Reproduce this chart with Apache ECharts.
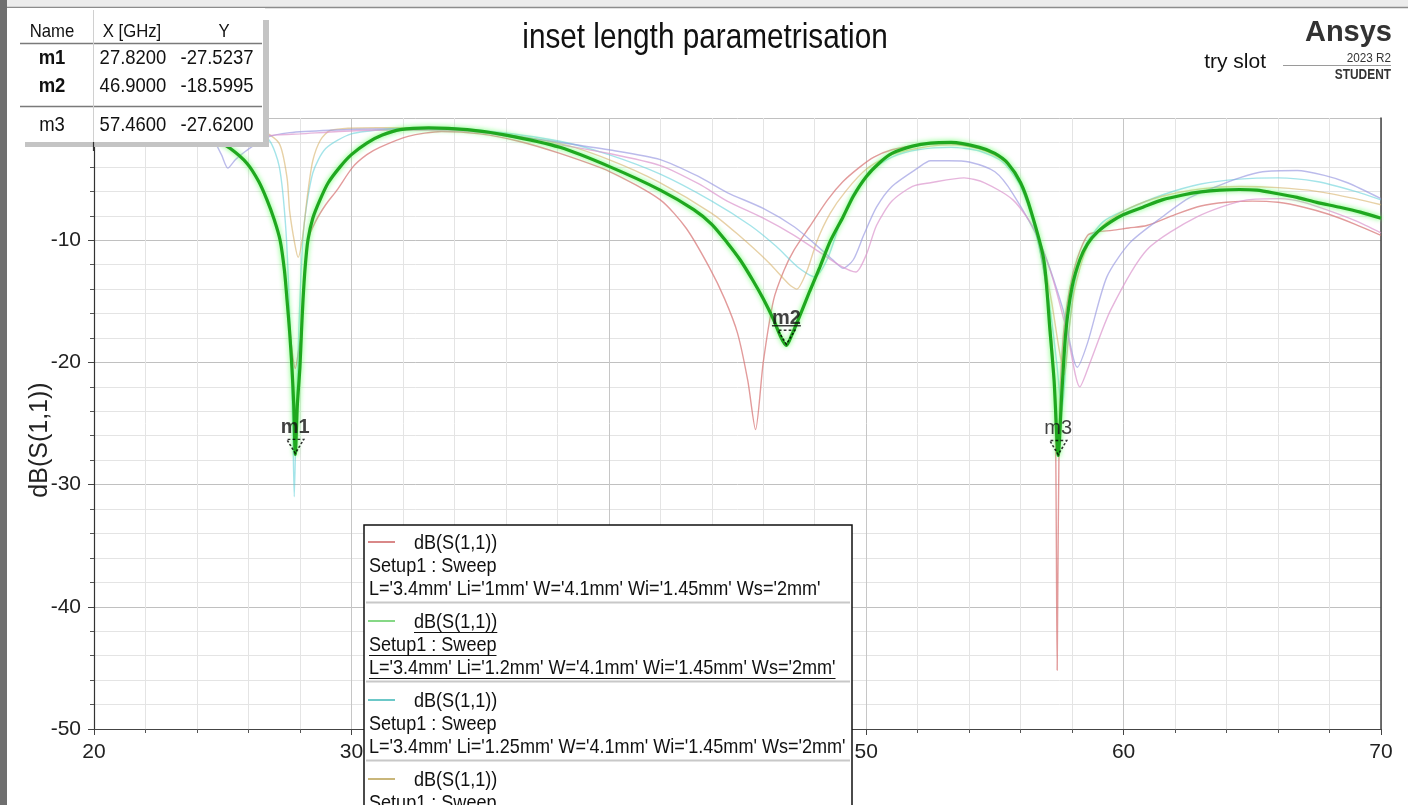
<!DOCTYPE html>
<html>
<head>
<meta charset="utf-8">
<script src="https://cdn.jsdelivr.net/npm/echarts/dist/echarts.min.js"></script>
<style>
  html, body { margin: 0; padding: 0; background: #ffffff; }
  #chart { width: 1408px; height: 805px; }
</style>
</head>
<body>
<div id="chart"></div>
<script>
// ---- data -------------------------------------------------------------
const chartTitle = 'inset length parametrisation';
const yAxisName = 'dB(S(1,1))';
const traceName = 'dB(S(1,1))';
const setupName = 'Setup1 : Sweep';
const reportName = 'try slot';

// swept variable per trace
const sweepLabels = [
  "L='3.4mm' Li='1mm' W='4.1mm' Wi='1.45mm' Ws='2mm'",
  "L='3.4mm' Li='1.2mm' W='4.1mm' Wi='1.45mm' Ws='2mm'",
  "L='3.4mm' Li='1.25mm' W='4.1mm' Wi='1.45mm' Ws='2mm'",
  "L='3.4mm' Li='1.3mm' W='4.1mm' Wi='1.45mm' Ws='2mm'",
  "L='3.4mm' Li='1.4mm' W='4.1mm' Wi='1.45mm' Ws='2mm'",
  "L='3.4mm' Li='1.5mm' W='4.1mm' Wi='1.45mm' Ws='2mm'"
];

// [frequency GHz, dB(S11)]
const sLi100 = [[24.0,-1.3],[24.6,-1.7],[25.3,-2.6],[25.94,-3.8],[26.4,-5.2],[26.72,-6.7],[27.0,-8.3],[27.23,-10.0],[27.4,-12.5],[27.5,-14.9],[27.6,-17.0],[27.69,-19.0],[27.82,-20.5],[27.95,-19.0],[28.06,-17.5],[28.12,-14.9],[28.2,-12.3],[28.31,-10.0],[28.6,-8.5],[29.0,-7.1],[29.44,-5.9],[30.06,-4.0],[30.6,-3.0],[31.1,-2.4],[32.2,-1.5],[33.5,-1.1],[35.0,-1.3],[36.5,-1.9],[38.1,-2.9],[40.05,-4.4],[42.0,-6.7],[43.0,-9.0],[43.9,-12.2],[44.5,-14.8],[45.0,-17.6],[45.4,-21.5],[45.7,-25.5],[46.0,-20.0],[46.4,-14.9],[46.8,-12.5],[47.2,-10.8],[47.8,-8.9],[48.5,-6.7],[49.1,-5.2],[49.76,-4.0],[50.3,-3.2],[51.0,-2.6],[52.0,-2.2],[53.2,-2.1],[54.4,-2.5],[55.0,-3.0],[55.5,-3.8],[56.0,-5.5],[56.5,-8.5],[56.9,-12.5],[57.2,-18.0],[57.35,-25.0],[57.42,-45.2],[57.5,-25.0],[57.65,-18.0],[57.9,-14.0],[58.2,-11.5],[58.6,-9.6],[59.0,-9.3],[59.55,-9.2],[60.2,-9.0],[60.9,-8.8],[62.0,-7.9],[63.0,-7.2],[64.0,-6.9],[65.0,-6.8],[66.0,-6.9],[67.0,-7.3],[68.0,-7.9],[69.0,-8.7],[70.0,-9.6]];

const sLi120 = [[24.0,-1.2],[24.6,-1.6],[25.3,-2.5],[25.94,-3.7],[26.4,-5.2],[26.72,-6.7],[27.0,-8.3],[27.23,-10.0],[27.4,-12.5],[27.5,-14.9],[27.6,-17.5],[27.69,-20.4],[27.76,-23.5],[27.82,-27.5237],[27.9,-23.5],[28.0,-20.4],[28.06,-17.5],[28.12,-14.9],[28.2,-12.3],[28.31,-10.0],[28.5,-8.2],[28.78,-6.7],[29.1,-5.3],[29.56,-4.0],[30.0,-3.0],[30.6,-2.05],[31.2,-1.4],[31.9,-0.95],[33.0,-0.8],[34.5,-0.95],[36.0,-1.4],[38.1,-2.4],[40.05,-4.0],[42.0,-5.9],[43.3,-7.5],[44.0,-8.7],[44.6,-10.2],[45.1,-11.6],[45.6,-13.3],[46.0,-14.8],[46.4,-16.5],[46.7,-18.0],[46.9,-18.5995],[47.1,-17.8],[47.4,-16.3],[47.8,-14.2],[48.2,-12.2],[48.6,-10.1],[49.1,-8.1],[49.5,-6.4],[50.0,-4.8],[50.5,-3.7],[51.0,-2.9],[51.8,-2.3],[52.5,-2.05],[53.3,-2.0],[54.4,-2.4],[55.0,-2.9],[55.5,-3.7],[56.0,-5.3],[56.4,-7.6],[56.9,-11.6],[57.14,-17.4],[57.3,-21.5],[57.46,-27.62],[57.6,-22.5],[57.76,-17.4],[58.0,-13.8],[58.3,-11.6],[58.6,-10.3],[59.0,-9.3],[59.5,-8.5],[60.0,-7.9],[60.75,-7.3],[61.5,-6.7],[62.3,-6.3],[63.0,-6.05],[63.74,-5.9],[64.5,-5.85],[65.18,-5.9],[66.0,-6.2],[66.74,-6.5],[67.5,-6.9],[68.4,-7.3],[69.2,-7.7],[70.0,-8.2]];

const sLi125 = [[24.0,-0.8],[26.0,-0.9],[26.8,-1.8],[27.2,-4.0],[27.45,-9.0],[27.6,-16.0],[27.72,-25.0],[27.78,-31.0],[27.85,-25.0],[27.98,-16.0],[28.15,-9.0],[28.5,-4.5],[29.0,-2.5],[30.0,-1.3],[31.5,-0.9],[33.0,-0.8],[35.0,-1.0],[38.1,-1.9],[40.0,-3.0],[42.0,-4.6],[44.0,-6.8],[45.5,-8.8],[46.5,-10.5],[47.4,-12.3],[48.0,-13.0],[48.5,-11.5],[49.0,-8.5],[49.5,-6.2],[50.2,-4.3],[51.0,-3.2],[52.0,-2.6],[53.3,-2.4],[54.4,-2.7],[55.3,-3.6],[56.0,-5.6],[56.6,-9.5],[57.1,-15.0],[57.4,-20.0],[57.6,-24.0],[57.8,-19.0],[58.1,-13.5],[58.5,-10.5],[59.2,-8.5],[60.0,-7.6],[61.5,-6.3],[63.0,-5.4],[64.5,-5.0],[66.0,-4.9],[67.5,-5.2],[69.0,-6.0],[70.0,-6.7]];

const sLi130 = [[24.0,-0.9],[25.5,-0.8],[26.5,-1.0],[27.2,-2.1],[27.5,-4.9],[27.6,-7.6],[27.8,-10.3],[27.93,-11.4],[28.1,-9.8],[28.3,-6.2],[28.5,-3.5],[28.8,-1.8],[29.2,-1.0],[31.0,-0.8],[33.0,-0.8],[35.0,-1.1],[38.1,-2.1],[40.0,-3.4],[42.0,-5.3],[44.0,-7.8],[45.0,-9.5],[46.2,-11.8],[47.0,-13.6],[47.3,-14.0],[47.7,-12.5],[48.1,-10.0],[48.6,-7.8],[49.2,-6.0],[50.0,-4.2],[51.0,-3.0],[52.5,-2.3],[53.5,-2.2],[54.5,-2.6],[55.4,-3.6],[56.1,-5.8],[56.7,-9.8],[57.2,-15.0],[57.5,-19.0],[57.7,-21.0],[57.9,-17.0],[58.1,-14.0],[58.6,-10.5],[59.3,-8.6],[60.2,-7.4],[61.5,-6.4],[63.0,-5.8],[64.5,-5.6],[66.0,-5.7],[67.5,-6.0],[69.0,-6.6],[70.0,-7.1]];

const sLi140 = [[24.0,-1.0],[24.6,-1.7],[24.95,-3.0],[25.2,-4.1],[25.5,-3.4],[25.9,-2.7],[26.7,-1.6],[27.6,-1.2],[29.2,-1.0],[31.0,-0.9],[33.0,-0.9],[35.0,-1.1],[38.1,-2.0],[40.0,-2.6],[42.0,-3.4],[43.5,-4.8],[44.6,-6.1],[46.0,-7.4],[47.2,-8.9],[48.0,-10.3],[48.7,-11.6],[49.1,-12.3],[49.5,-11.6],[49.9,-9.6],[50.4,-7.3],[51.0,-5.6],[52.0,-4.1],[52.5,-3.5],[53.2,-3.5],[54.0,-3.6],[55.0,-4.4],[55.7,-6.2],[56.75,-10.2],[57.65,-15.7],[58.2,-20.4],[58.6,-18.4],[59.35,-13.0],[60.25,-10.2],[61.5,-8.1],[62.5,-6.6],[63.5,-5.7],[64.5,-4.9],[65.4,-4.4],[66.74,-4.3],[67.8,-4.7],[68.7,-5.3],[70.0,-6.6]];

const sLi150 = [[24.0,-1.2],[25.0,-1.4],[26.0,-1.5],[27.0,-1.4],[28.0,-1.3],[29.5,-1.1],[31.0,-1.0],[33.0,-1.0],[35.0,-1.2],[38.1,-2.2],[40.0,-2.9],[42.0,-3.9],[43.5,-5.4],[44.6,-6.8],[46.0,-8.2],[47.2,-9.6],[48.2,-11.0],[49.0,-12.1],[49.6,-12.6],[50.0,-11.2],[50.4,-8.8],[51.0,-6.8],[51.8,-5.6],[52.5,-5.3],[53.8,-4.9],[54.6,-5.3],[55.7,-6.7],[56.5,-9.0],[57.2,-12.8],[57.8,-17.5],[58.3,-22.0],[58.7,-20.0],[59.5,-15.7],[60.9,-10.8],[62.85,-8.1],[64.8,-6.7],[66.1,-6.6],[67.0,-6.9],[68.0,-7.6],[69.0,-8.4],[70.0,-9.4]];

const traceData = [sLi100, sLi120, sLi125, sLi130, sLi140, sLi150];

// markers
const markerNames = ['m1', 'm2', 'm3'];
const markerX = [27.82, 46.90, 57.46];
const markerY = [-27.5237, -18.5995, -27.6200];

// axes
const xMin = 20, xMax = 70, xStep = 10;
const yMin = -50, yMax = 0, yStep = 10;

// ---- styling ----------------------------------------------------------
const SANS = "'Liberation Sans',Arial,sans-serif";

const traceStyles = [
  { line: 'rgba(214,112,112,0.70)', key: '#d98888', width: 1.4 },
  { line: '#1fa81f', key: '#86d886', width: 3.2, glow: 'rgba(100,255,100,0.95)' },
  { line: 'rgba(90,205,215,0.55)', key: '#6cc8c8', width: 1.4 },
  { line: 'rgba(212,172,92,0.55)', key: '#c9b67a', width: 1.4 },
  { line: 'rgba(150,150,225,0.65)', key: '#a0a0e0', width: 1.4 },
  { line: 'rgba(220,150,205,0.70)', key: '#dca0cc', width: 1.4 }
];
const selectedTrace = 1;
const selectedMarker = 1;

const chart = echarts.init(document.getElementById('chart'));

const lineSeries = traceData.map((d, i) => ({
  type: 'line',
  name: sweepLabels[i],
  data: d,
  showSymbol: false,
  smooth: 0.25,
  z: i === selectedTrace ? 4 : 2,
  lineStyle: {
    color: traceStyles[i].line,
    width: traceStyles[i].width,
    shadowColor: traceStyles[i].glow || 'transparent',
    shadowBlur: traceStyles[i].glow ? 5 : 0
  },
  emphasis: { disabled: true },
  animation: false
}));

const markerSeries = {
  type: 'scatter',
  data: markerNames.map((n, i) => ({ name: n, value: [markerX[i], markerY[i]] })),
  symbol: 'triangle',
  symbolRotate: 180,
  symbolSize: [17, 14],
  symbolOffset: [0, -8],
  z: 6,
  itemStyle: { color: 'rgba(0,0,0,0)', borderColor: '#000', borderWidth: 1.5, borderType: [2.5, 2] },
  label: {
    show: true,
    position: 'top',
    distance: 1,
    formatter: p => p.name,
    fontFamily: SANS,
    fontSize: 20,
    color: '#111',
    fontWeight: 'bold'
  },
  emphasis: { disabled: true },
  animation: false
};
// m3 label is not bold
markerSeries.data[2].label = { fontWeight: 'normal' };

// ---- text helpers -----------------------------------------------------
const measureCtx = document.createElement('canvas').getContext('2d');
function textWidth(str, font) { measureCtx.font = font; return measureCtx.measureText(str).width; }
// text squeezed horizontally to a narrow face
function txt(str, x, y, size, opts = {}) {
  const weight = opts.weight || 'normal';
  return {
    type: 'text', x: x, y: y, z: 110,
    scaleX: opts.sx || 1,
    rotation: opts.rotation || 0,
    style: {
      text: str,
      font: weight + ' ' + size + 'px ' + SANS,
      fill: opts.fill || '#111',
      textAlign: opts.align || 'left',
      textVerticalAlign: 'middle'
    }
  };
}

const graphics = [];

// window frame
graphics.push({ type: 'rect', shape: { x: 0, y: 0, width: 1408, height: 7 }, style: { fill: '#ececec' }, z: 100 });
graphics.push({ type: 'line', shape: { x1: 0, y1: 7.5, x2: 1408, y2: 7.5 }, style: { stroke: '#8c8c8c', lineWidth: 1.5 }, z: 100 });
graphics.push({ type: 'rect', shape: { x: 0, y: 0, width: 7, height: 805 }, style: { fill: '#6f6f6f' }, z: 120 });

// title
graphics.push(txt(chartTitle, 705, 38, 35, { align: 'center', sx: 0.85 }));

// marker table
graphics.push({ type: 'rect', shape: { x: 7, y: 8, width: 258, height: 135 }, style: { fill: '#ffffff' }, z: 105 });
graphics.push({ type: 'rect', shape: { x: 263, y: 20, width: 6, height: 127 }, style: { fill: '#c4c4c4' }, z: 106 });
graphics.push({ type: 'rect', shape: { x: 25, y: 142, width: 244, height: 5 }, style: { fill: '#c4c4c4' }, z: 106 });
graphics.push({ type: 'line', shape: { x1: 20, y1: 43.5, x2: 262, y2: 43.5 }, style: { stroke: '#7a7a7a', lineWidth: 1.5 }, z: 107 });
graphics.push({ type: 'line', shape: { x1: 20, y1: 106.5, x2: 262, y2: 106.5 }, style: { stroke: '#7a7a7a', lineWidth: 1.5 }, z: 107 });
graphics.push({ type: 'line', shape: { x1: 93.5, y1: 10, x2: 93.5, y2: 142 }, style: { stroke: '#d0d0d0', lineWidth: 1 }, z: 107 });
graphics.push({ type: 'line', shape: { x1: 93.5, y1: 142, x2: 93.5, y2: 151 }, style: { stroke: '#333', lineWidth: 1.2 }, z: 107 });
graphics.push(txt('Name', 52, 32, 19, { align: 'center', sx: 0.88 }));
graphics.push(txt('X [GHz]', 132, 32, 19, { align: 'center', sx: 0.88 }));
graphics.push(txt('Y', 224, 32, 19, { align: 'center', sx: 0.88 }));
const rowY = [58, 86, 125];
markerNames.forEach((n, i) => {
  graphics.push(txt(n, 52, rowY[i], 21, { align: 'center', weight: i < 2 ? 'bold' : 'normal', sx: 0.88 }));
  graphics.push(txt(markerX[i].toFixed(4), 133, rowY[i], 21, { align: 'center', sx: 0.88 }));
  graphics.push(txt(markerY[i].toFixed(4), 217, rowY[i], 21, { align: 'center', sx: 0.88 }));
});

// product badge and report name
graphics.push(txt('Ansys', 1392, 33, 29, { align: 'right', weight: 'bold', fill: '#333' }));
graphics.push(txt('2023 R2', 1391, 58, 13, { align: 'right', fill: '#333', sx: 0.9 }));
graphics.push({ type: 'line', shape: { x1: 1283, y1: 65.5, x2: 1391, y2: 65.5 }, style: { stroke: '#9a9a9a', lineWidth: 1 }, z: 110 });
graphics.push(txt('STUDENT', 1391, 75, 14, { align: 'right', weight: 'bold', fill: '#333', sx: 0.85 }));
graphics.push(txt(reportName, 1266, 62, 21, { align: 'right' }));

// y axis title
graphics.push(txt(yAxisName, 40, 440, 25, { align: 'center', rotation: Math.PI / 2, fill: '#222' }));

// legend box
const legendX = 364, legendY = 525, legendW = 488, entryH = 79, rowH = 23;
const legendFont = 21, legendSx = 0.86;
graphics.push({ type: 'rect', shape: { x: legendX, y: legendY, width: legendW, height: 320 }, style: { fill: '#ffffff', stroke: '#111', lineWidth: 1.5 }, z: 108 });
for (let i = 0; i < 4; i++) {
  const y0 = 543 + entryH * i;
  graphics.push({ type: 'line', shape: { x1: 368, y1: y0 - 1, x2: 395, y2: y0 - 1 }, style: { stroke: traceStyles[i].key, lineWidth: 2 }, z: 110 });
  const lines = [[traceName, 414, y0], [setupName, 369, y0 + rowH], [sweepLabels[i], 369, y0 + 2 * rowH]];
  lines.forEach(([s, x, y]) => {
    graphics.push(txt(s, x, y, legendFont, { sx: legendSx }));
    if (i === selectedTrace) {
      const w = textWidth(s, 'normal ' + legendFont + 'px ' + SANS) * legendSx;
      graphics.push({ type: 'line', shape: { x1: x, y1: y + 10.5, x2: x + w, y2: y + 10.5 }, style: { stroke: '#111', lineWidth: 1 }, z: 110 });
    }
  });
  graphics.push({ type: 'line', shape: { x1: legendX + 2, y1: y0 + 59.5, x2: legendX + legendW - 2, y2: y0 + 59.5 }, style: { stroke: '#c8c8c8', lineWidth: 2 }, z: 109 });
}

const option = {
  backgroundColor: '#ffffff',
  animation: false,
  grid: { left: 94, right: 27, top: 118, bottom: 76, containLabel: false },
  xAxis: {
    type: 'value', min: xMin, max: xMax, interval: xStep,
    axisLine: { show: true, onZero: false, lineStyle: { color: '#444', width: 1.2 } },
    axisTick: { show: true, length: 6, lineStyle: { color: '#444' } },
    minorTick: { show: true, splitNumber: 5, length: 4, lineStyle: { color: '#555' } },
    axisLabel: { fontFamily: SANS, fontSize: 21, color: '#222', margin: 13 },
    splitLine: { show: true, lineStyle: { color: '#c6c6c6', width: 1 } },
    minorSplitLine: { show: true, lineStyle: { color: '#e4e4e4', width: 1 } }
  },
  yAxis: [{
    type: 'value', min: yMin, max: yMax, interval: yStep,
    axisLine: { show: true, onZero: false, lineStyle: { color: '#333', width: 1.2 } },
    axisTick: { show: true, length: 6, lineStyle: { color: '#444' } },
    minorTick: { show: true, splitNumber: 5, length: 4, lineStyle: { color: '#555' } },
    axisLabel: { fontFamily: SANS, fontSize: 21, color: '#222', margin: 13 },
    splitLine: { show: true, lineStyle: { color: '#c0c0c0', width: 1 } },
    minorSplitLine: { show: true, lineStyle: { color: '#e4e4e4', width: 1 } }
  }, {
    type: 'value', min: yMin, max: yMax, interval: yStep, position: 'right',
    axisLine: { show: true, onZero: false, lineStyle: { color: '#444', width: 1.5 } },
    axisTick: { show: false }, axisLabel: { show: false }, splitLine: { show: false }
  }],
  series: lineSeries.concat([markerSeries]),
  graphic: { elements: graphics }
};

chart.setOption(option);

// underline the selected marker's label
const p = chart.convertToPixel({ gridIndex: 0 }, [markerX[selectedMarker], markerY[selectedMarker]]);
const mw = textWidth(markerNames[selectedMarker], 'bold 20px ' + SANS);
graphics.push({ type: 'line', shape: { x1: p[0] - mw / 2, y1: p[1] - 19.5, x2: p[0] + mw / 2, y2: p[1] - 19.5 }, style: { stroke: '#111', lineWidth: 1.2 }, z: 111 });
chart.setOption({ graphic: { elements: graphics } });
</script>
</body>
</html>
